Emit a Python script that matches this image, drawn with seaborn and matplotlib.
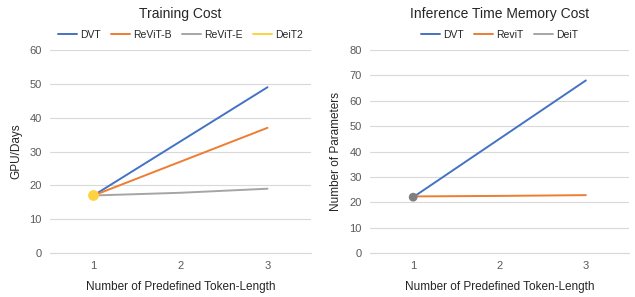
import numpy as np
import pandas as pd
import matplotlib
matplotlib.use("Agg")
import matplotlib.pyplot as plt
import seaborn as sns
from matplotlib.lines import Line2D

# data
token_len = [1, 2, 3]

train_dvt = [17, 33, 49]
train_revit_b = [17, 27, 37]
train_revit_e = [17, 17.8, 19]
train_deit2 = [17]

infer_dvt = [22, 45, 68]
infer_revit = [22.3, 22.5, 22.8]
infer_deit = [22]

sns.set_style("white")
plt.rcParams['font.family'] = ['Liberation Sans', 'DejaVu Sans']

BLUE = '#4472C4'
ORANGE = '#ED7D31'
GRAY = '#A5A5A5'
YELLOW = '#FFD23F'
TXT = '#595959'

fig = plt.figure(figsize=(6.35, 2.97), dpi=100)
ax1 = fig.add_axes([50/635, 44/297, 261/635, 203/297])
ax2 = fig.add_axes([370/635, 44/297, 259/635, 203/297])


def style(ax, ymax, ylabel, title):
    ax.set_xlim(0.5, 3.5)
    ax.set_ylim(0, ymax)
    ax.set_yticks(np.arange(0, ymax + 1, 10))
    ax.set_xticks(token_len)
    ax.grid(axis='y', color='#D9D9D9', lw=0.8)
    ax.set_axisbelow(True)
    for s in ['top', 'right', 'left']:
        ax.spines[s].set_visible(False)
    ax.spines['bottom'].set_color('#D9D9D9')
    ax.tick_params(axis='both', length=0, labelsize=8, colors=TXT, pad=6)
    ax.set_xlabel('Number of Predefined Token-Length', fontsize=8.5, color='#262626', labelpad=7)
    ax.set_ylabel(ylabel, fontsize=8.5, color='#262626', labelpad=5)
    ax.set_title(title, fontsize=10, color='#262626', pad=23)


# Training cost
sns.lineplot(x=token_len, y=train_dvt, color=BLUE, lw=1.4, ax=ax1)
sns.lineplot(x=token_len, y=train_revit_b, color=ORANGE, lw=1.4, ax=ax1)
sns.lineplot(x=token_len, y=train_revit_e, color=GRAY, lw=1.4, ax=ax1)
sns.scatterplot(x=token_len[:1], y=train_deit2, color=YELLOW, s=60, edgecolor='none', ax=ax1, zorder=5)
style(ax1, 60, 'GPU/Days', 'Training Cost')
h1 = [Line2D([], [], color=c, lw=1.4) for c in [BLUE, ORANGE, GRAY, YELLOW]]
ax1.legend(h1, ['DVT', 'ReViT-B', 'ReViT-E', 'DeiT2'], loc='lower center',
           bbox_to_anchor=(0.5, 1.0), ncol=4, frameon=False, fontsize=7.5,
           handlelength=1.8, handletextpad=0.3, columnspacing=1.0, borderaxespad=0.6)

# Inference time memory cost
sns.lineplot(x=token_len, y=infer_dvt, color=BLUE, lw=1.4, ax=ax2)
sns.lineplot(x=token_len, y=infer_revit, color=ORANGE, lw=1.4, ax=ax2)
sns.scatterplot(x=token_len[:1], y=infer_deit, color='#7F7F7F', s=40, edgecolor='none', ax=ax2, zorder=5)
style(ax2, 80, 'Number of Parameters', 'Inference Time Memory Cost')
h2 = [Line2D([], [], color=c, lw=1.4) for c in [BLUE, ORANGE, GRAY]]
ax2.legend(h2, ['DVT', 'ReviT', 'DeiT'], loc='lower center',
           bbox_to_anchor=(0.5, 1.0), ncol=3, frameon=False, fontsize=7.5,
           handlelength=1.8, handletextpad=0.3, columnspacing=1.0, borderaxespad=0.6)

for t in ax1.get_legend().get_texts() + ax2.get_legend().get_texts():
    t.set_color('#262626')

fig.savefig('out.png', dpi=100)
